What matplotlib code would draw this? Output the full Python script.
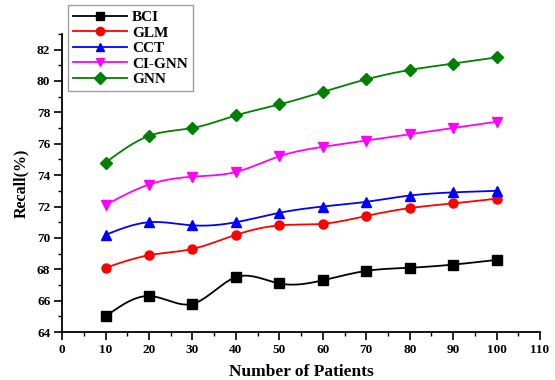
import numpy as np
from matplotlib import pyplot as plt
from matplotlib.ticker import MultipleLocator

patients = [10, 20, 30, 40, 50, 60, 70, 80, 90, 100]
bci = [65.0, 66.3, 65.8, 67.5, 67.1, 67.3, 67.9, 68.1, 68.3, 68.6]
glm = [68.1, 68.9, 69.3, 70.2, 70.8, 70.9, 71.4, 71.9, 72.2, 72.5]
cct = [70.2, 71.0, 70.8, 71.0, 71.6, 72.0, 72.3, 72.7, 72.9, 73.0]
ci_gnn = [72.1, 73.4, 73.9, 74.2, 75.2, 75.8, 76.2, 76.6, 77.0, 77.4]
gnn = [74.8, 76.5, 77.0, 77.8, 78.5, 79.3, 80.1, 80.7, 81.1, 81.5]

names = ['BCI', 'GLM', 'CCT', 'CI-GNN', 'GNN']
colors = ['black', 'red', 'blue', 'magenta', 'green']
markers = ['s', 'o', '^', 'v', 'D']


def smooth(x, y, n=20):
    # natural cubic spline, only used to draw the connecting curve
    x = np.asarray(x, float)
    y = np.asarray(y, float)
    m = len(x)
    h = np.diff(x)
    A = np.zeros((m, m))
    b = np.zeros(m)
    A[0, 0] = A[-1, -1] = 1
    for i in range(1, m - 1):
        A[i, i - 1] = h[i - 1]
        A[i, i] = 2 * (h[i - 1] + h[i])
        A[i, i + 1] = h[i]
        b[i] = 6 * ((y[i + 1] - y[i]) / h[i] - (y[i] - y[i - 1]) / h[i - 1])
    M = np.linalg.solve(A, b)
    xs, ys = [], []
    for i in range(m - 1):
        t = np.linspace(x[i], x[i + 1], n, endpoint=False)
        a = x[i + 1] - t
        c = t - x[i]
        v = (M[i] * a**3 + M[i + 1] * c**3) / (6 * h[i]) \
            + (y[i] / h[i] - M[i] * h[i] / 6) * a \
            + (y[i + 1] / h[i] - M[i + 1] * h[i] / 6) * c
        xs.extend(t)
        ys.extend(v)
    xs.append(x[-1])
    ys.append(y[-1])
    return xs, ys


plt.rcParams['font.family'] = 'Liberation Serif'
plt.rcParams['font.weight'] = 'bold'

fig = plt.figure(figsize=(5.55, 3.8), dpi=100)
ax = fig.add_axes([0.112, 0.126, 0.861, 0.785])

handles = []
for vals, name, col, mk in zip([bci, glm, cct, ci_gnn, gnn], names, colors, markers):
    sx, sy = smooth(patients, vals)
    ax.plot(sx, sy, color=col, lw=1.3)
    ax.plot(patients, vals, linestyle='none', marker=mk, color=col,
            markersize=6.5 if mk != 'D' else 6)
    h, = ax.plot([], [], color=col, lw=1.3, marker=mk, markersize=6)
    handles.append(h)

ax.set_xlim(0, 110)
ax.set_ylim(64, 83)
ax.xaxis.set_major_locator(MultipleLocator(10))
ax.xaxis.set_minor_locator(MultipleLocator(5))
ax.yaxis.set_minor_locator(MultipleLocator(1))
ax.set_yticks(range(64, 83, 2))
ax.spines['top'].set_visible(False)
ax.spines['right'].set_visible(False)
ax.spines['left'].set_linewidth(1.3)
ax.spines['bottom'].set_linewidth(1.3)
ax.tick_params(which='major', direction='out', length=5.5, width=1.2,
               labelsize=9.5, pad=3)
ax.tick_params(which='minor', direction='out', length=3, width=1.0)
for lab in ax.get_xticklabels() + ax.get_yticklabels():
    lab.set_fontweight('bold')

ax.set_xlabel('Number of Patients', fontsize=12.5, fontweight='bold', labelpad=6)
ax.set_ylabel('Recall(%)', fontsize=11.5, fontweight='bold', labelpad=6)

leg = fig.legend(handles, names, loc='upper left', bbox_to_anchor=(0.1225, 0.987),
                 borderaxespad=0, prop={'weight': 'bold', 'size': 11},
                 frameon=True, fancybox=False, edgecolor='#888888',
                 handlelength=3.5, borderpad=0.35, labelspacing=0.12,
                 handletextpad=0.35)
leg.get_frame().set_linewidth(1.0)

fig.savefig('out.png', dpi=100)
